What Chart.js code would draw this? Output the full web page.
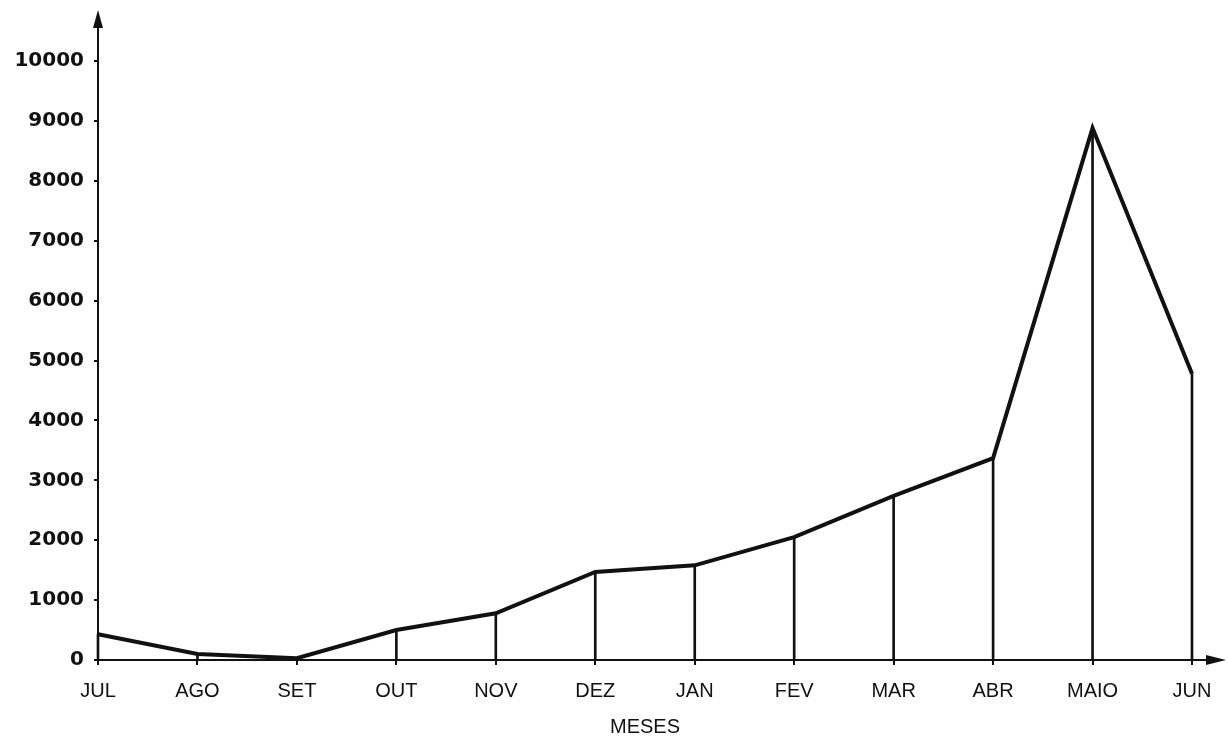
<!DOCTYPE html>
<html>
<head>
<meta charset="utf-8">
<script src="https://cdn.jsdelivr.net/npm/chart.js@4/dist/chart.umd.min.js"></script>
<style>
  html, body { margin: 0; padding: 0; background: #fff; }
  #wrap { width: 1228px; height: 739px; }
</style>
</head>
<body>
<div id="wrap"><canvas id="grafico"></canvas></div>
<script>
// meses e valores
var meses = ['JUL', 'AGO', 'SET', 'OUT', 'NOV', 'DEZ', 'JAN', 'FEV', 'MAR', 'ABR', 'MAIO', 'JUN'];
var valores = [430, 100, 30, 500, 780, 1470, 1580, 2050, 2740, 3370, 8880, 4780];
var yMin = 0, yMax = 10000, yPasso = 1000;
var tituloX = 'MESES';

// setas na ponta dos eixos
var setas = {
  id: 'setas',
  afterDraw: function(chart) {
    var ctx = chart.ctx, a = chart.chartArea;
    ctx.save();
    ctx.strokeStyle = '#111';
    ctx.fillStyle = '#111';
    ctx.lineWidth = 2;
    ctx.beginPath();
    ctx.moveTo(a.left, a.top);
    ctx.lineTo(a.left, 22);
    ctx.moveTo(a.right, a.bottom);
    ctx.lineTo(1212, a.bottom);
    ctx.stroke();
    ctx.beginPath();
    ctx.moveTo(a.left, 10);
    ctx.lineTo(a.left - 5, 28);
    ctx.lineTo(a.left + 5, 28);
    ctx.closePath();
    ctx.fill();
    ctx.beginPath();
    ctx.moveTo(1226, a.bottom);
    ctx.lineTo(1206, a.bottom - 5);
    ctx.lineTo(1206, a.bottom + 5);
    ctx.closePath();
    ctx.fill();
    ctx.restore();
  }
};

new Chart(document.getElementById('grafico'), {
  data: {
    labels: meses,
    datasets: [
      {
        type: 'line',
        data: valores,
        borderColor: '#111',
        borderWidth: 4,
        pointRadius: 0,
        tension: 0,
        clip: false,
        order: 0
      },
      {
        type: 'bar',
        data: valores,
        backgroundColor: '#111',
        barThickness: 2,
        clip: false,
        order: 1
      }
    ]
  },
  options: {
    responsive: true,
    maintainAspectRatio: false,
    animation: false,
    layout: { padding: { left: 0, right: 36, top: 61, bottom: 0 } },
    plugins: {
      legend: { display: false },
      tooltip: { enabled: false }
    },
    scales: {
      x: {
        offset: false,
        afterFit: function(s) { s.height = 79; },
        border: { display: true, color: '#111', width: 2 },
        grid: { display: true, offset: false, drawOnChartArea: false, drawTicks: true, tickLength: 5, color: '#111', lineWidth: 2 },
        ticks: {
          color: '#111',
          padding: 14,
          maxRotation: 0,
          autoSkip: false,
          font: { family: 'Liberation Sans', size: 20 }
        },
        title: {
          display: true,
          text: tituloX,
          color: '#111',
          padding: { top: 4, bottom: 0 },
          font: { family: 'Liberation Sans', size: 20 }
        }
      },
      y: {
        min: yMin,
        max: yMax,
        afterFit: function(s) { s.width = 98; },
        border: { display: true, color: '#111', width: 2 },
        grid: { display: true, drawOnChartArea: false, drawTicks: true, tickLength: 4, color: '#111', lineWidth: 2 },
        ticks: {
          stepSize: yPasso,
          color: '#111',
          padding: 10,
          font: { family: 'DejaVu Sans', size: 20, weight: 'bold' },
          callback: function(v) { return String(v); }
        }
      }
    }
  },
  plugins: [setas]
});
</script>
</body>
</html>
